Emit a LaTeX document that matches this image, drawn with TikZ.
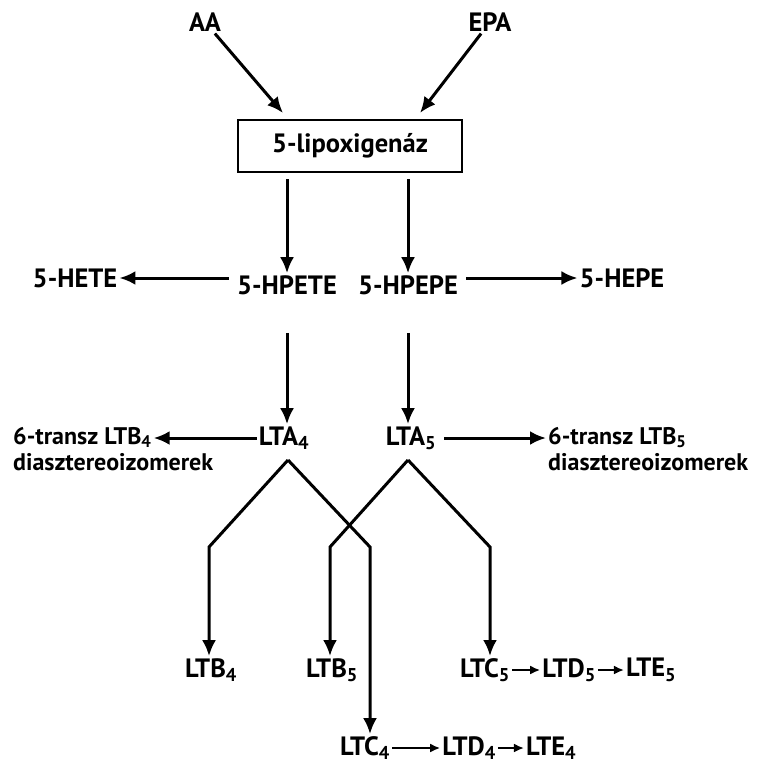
\documentclass[tikz,border=0pt]{standalone}
\usepackage{fontspec}
\setmainfont{PT Sans}
\usetikzlibrary{arrows.meta,positioning}

\begin{document}
\begin{tikzpicture}[
    x=1pt, y=-1pt,
    lbl/.style={font=\fontsize{26.5}{30}\selectfont\bfseries, inner sep=2pt},
    side/.style={font=\fontsize{24}{27}\selectfont\bfseries, inner sep=0pt, align=left},
    enzyme/.style={rectangle, draw, line width=2pt, minimum width=224pt, minimum height=52pt, font=\fontsize{26.5}{30}\selectfont\bfseries},
    arrow/.style={-{Latex[length=16pt,width=14pt]}, line width=3pt},
    small/.style={-{Latex[length=10pt,width=9pt]}, line width=2pt}
]
    \useasboundingbox (0,0) rectangle (768,764);

    % sources and enzyme
    \node[lbl] (aa) at (205,22) {AA};
    \node[lbl] (epa) at (490,22) {EPA};
    \node[enzyme] (lox) at (350,146) {5-lipoxigenáz};
    \coordinate (laIn) at (283,113);
    \coordinate (reIn) at (420,113);
    \draw[arrow] (aa) -- (laIn);
    \draw[arrow] (epa) -- (reIn);

    % hydroperoxides
    \node[lbl] (hpete) at (287,285) {5-HPETE};
    \node[lbl] (hpepe) at (408,285) {5-HPEPE};
    \node[lbl] (hete) at (75,278) {5-HETE};
    \node[lbl] (hepe) at (622,278) {5-HEPE};
    \draw[arrow] ([yshift=-6pt]lox.south -| hpete) -- (hpete.north);
    \draw[arrow] ([yshift=-6pt]lox.south -| hpepe) -- (hpepe.north);
    \draw[arrow] ([xshift=-6pt]hpete.west |- hete) -- (hete.east);
    \draw[arrow] ([xshift=6pt]hpepe.east |- hepe) -- (hepe.west);

    % leukotriene A
    \node[lbl] (lta4) at (284,438) {LTA\textsubscript{4}};
    \node[lbl] (lta5) at (411,438) {LTA\textsubscript{5}};
    \draw[arrow] ([yshift=-36pt]hpete.south) -- (lta4.north -| hpete);
    \draw[arrow] ([yshift=-36pt]hpepe.south) -- (lta5.north -| hpepe);
    \node[side, anchor=base west] (trans4) at (13,444) {6-transz LTB\textsubscript{4}};
    \node[side, anchor=base west] (dia4) at (13,470) {diasztereoizomerek};
    \node[side, anchor=base west] (trans5) at (548,444) {6-transz LTB\textsubscript{5}};
    \node[side, anchor=base west] (dia5) at (548,470) {diasztereoizomerek};
    \draw[arrow] (lta4.west) -- ([xshift=2pt]trans4.east |- lta4);
    \draw[arrow] ([xshift=6pt]lta5.east) -- ([xshift=-2pt]trans5.west |- lta5);

    % branch points
    \coordinate (apex4) at (288,460);
    \coordinate (apex5) at (408,460);
    \coordinate (b4) at (209,547);
    \coordinate (c4) at (370,547);
    \coordinate (b5) at (330,547);
    \coordinate (c5) at (490,547);

    % products
    \node[lbl] (ltb4) at (211,670) {LTB\textsubscript{4}};
    \node[lbl] (ltb5) at (332,670) {LTB\textsubscript{5}};
    \node[lbl] (ltc5) at (485,670) {LTC\textsubscript{5}};
    \node[lbl, right=28pt of ltc5] (ltd5) {LTD\textsubscript{5}};
    \node[lbl, right=26pt of ltd5] (lte5) {LTE\textsubscript{5}};
    \node[lbl] (ltc4) at (365,748) {LTC\textsubscript{4}};
    \node[lbl, right=48pt of ltc4] (ltd4) {LTD\textsubscript{4}};
    \node[lbl, right=26pt of ltd4] (lte4) {LTE\textsubscript{4}};

    \draw[arrow] (apex4) -- (b4) -- (b4 |- ltb4.north);
    \draw[arrow] (apex4) -- (c4) -- (c4 |- ltc4.north);
    \draw[arrow] (apex5) -- (b5) -- (b5 |- ltb5.north);
    \draw[arrow] (apex5) -- (c5) -- (c5 |- ltc5.north);

    \draw[small] (ltc5) -- (ltd5);
    \draw[small] (ltd5) -- (lte5);
    \draw[small] (ltc4) -- (ltd4);
    \draw[small] (ltd4) -- (lte4);
\end{tikzpicture}
\end{document}
